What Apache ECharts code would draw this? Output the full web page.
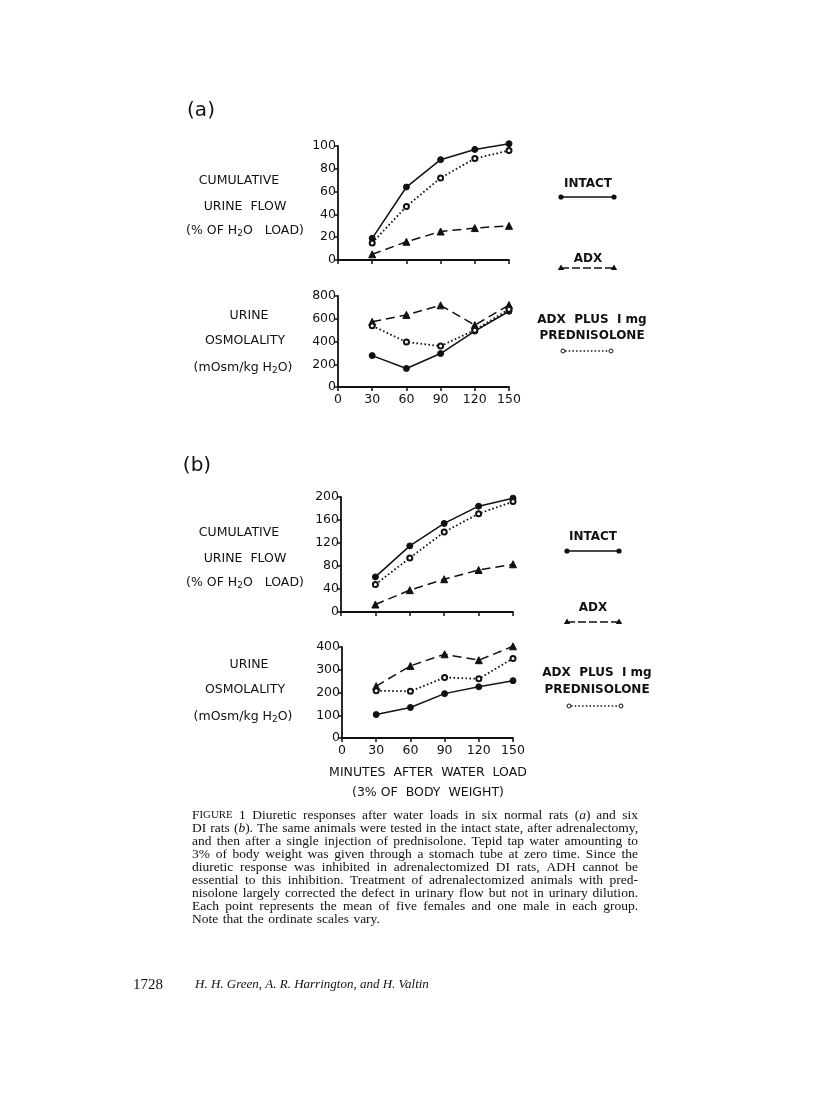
<!DOCTYPE html>
<html><head><meta charset="utf-8">
<script src="https://cdn.jsdelivr.net/npm/echarts@6/dist/echarts.min.js"></script>
<style>html,body{margin:0;padding:0;background:#fff}#c{width:816px;height:1100px}</style>
</head><body><div id="c"></div>
<script>
// ---- data ----
const minutes = [30, 60, 90, 120, 150];
const aFlowIntact = [19, 64, 88, 97, 102];
const aFlowAdx    = [5, 16, 25, 28, 30];
const aFlowPred   = [15, 47, 72, 89, 96];
const aOsmIntact  = [276, 163, 294, 492, 666];
const aOsmAdx     = [573, 634, 718, 544, 721];
const aOsmPred    = [538, 395, 360, 500, 684];
const bFlowIntact = [61, 115, 154, 184, 198];
const bFlowAdx    = [13, 38, 57, 73, 83];
const bFlowPred   = [48, 94, 139, 171, 192];
const bOsmIntact  = [103, 134, 195, 225, 252];
const bOsmAdx     = [228, 317, 368, 342, 403];
const bOsmPred    = [208, 205, 266, 260, 350];
const yMax = [100, 800, 200, 400];
const yStep = [20, 200, 40, 100];
const captionLines = [
  "FIGURE 1 Diuretic responses after water loads in six normal rats (a) and six",
  "DI rats (b). The same animals were tested in the intact state, after adrenalectomy,",
  "and then after a single injection of prednisolone. Tepid tap water amounting to",
  "3% of body weight was given through a stomach tube at zero time. Since the",
  "diuretic response was inhibited in adrenalectomized DI rats, ADH cannot be",
  "essential to this inhibition. Treatment of adrenalectomized animals with pred-",
  "nisolone largely corrected the defect in urinary flow but not in urinary dilution.",
  "Each point represents the mean of five females and one male in each group.",
  "Note that the ordinate scales vary."
];

const INK = '#111';
const SANS = '"DejaVu Sans", sans-serif';
const SERIF = '"Liberation Serif", "DejaVu Serif", serif';

const grids = [
  {left: 338, top: 146, width: 171, height: 114},
  {left: 338, top: 296, width: 171, height: 91},
  {left: 341, top: 497, width: 172, height: 115},
  {left: 342, top: 647, width: 171, height: 91}
];

const xAxes = grids.map((g, i) => ({
  type: 'value', gridIndex: i, min: 0, max: 150, interval: 30,
  axisLine: {show: true, lineStyle: {color: INK, width: 1.8}},
  axisTick: {show: true, length: 4, lineStyle: {color: INK, width: 1.5}},
  axisLabel: {show: i === 1 || i === 3, color: INK, fontFamily: SANS, fontSize: 12.5, margin: 6},
  splitLine: {show: false}
}));
const yAxes = grids.map((g, i) => ({
  type: 'value', gridIndex: i, min: 0, max: yMax[i], interval: yStep[i],
  axisLine: {show: true, lineStyle: {color: INK, width: 1.8}},
  axisTick: {show: true, length: 4, lineStyle: {color: INK, width: 1.5}},
  axisLabel: {show: true, color: INK, fontFamily: SANS, fontSize: 12.5, margin: 2},
  splitLine: {show: false}
}));

function mk(vals, i, kind) {
  const base = {
    type: 'line', xAxisIndex: i, yAxisIndex: i, clip: false, animation: false,
    showAllSymbol: true,
    data: minutes.map((m, k) => [m, vals[k]]),
    itemStyle: {color: INK, borderColor: INK},
    lineStyle: {color: INK, width: 1.5}
  };
  if (kind === 'intact') {
    base.symbol = 'circle'; base.symbolSize = 6;
  } else if (kind === 'adx') {
    base.symbol = 'triangle'; base.symbolSize = 7;
    base.lineStyle.type = [9, 5];
  } else {
    base.symbol = 'emptyCircle'; base.symbolSize = 5;
    base.itemStyle = {color: INK, borderWidth: 1.2};
    base.lineStyle.type = [1.6, 2.4]; base.lineStyle.width = 1.8;
  }
  return base;
}
const series = [
  mk(aFlowIntact, 0, 'intact'), mk(aFlowAdx, 0, 'adx'), mk(aFlowPred, 0, 'pred'),
  mk(aOsmIntact, 1, 'intact'), mk(aOsmAdx, 1, 'adx'), mk(aOsmPred, 1, 'pred'),
  mk(bFlowIntact, 2, 'intact'), mk(bFlowAdx, 2, 'adx'), mk(bFlowPred, 2, 'pred'),
  mk(bOsmIntact, 3, 'intact'), mk(bOsmAdx, 3, 'adx'), mk(bOsmPred, 3, 'pred')
];

// ---- graphic text/legend ----
const G = [];
const subRich = {n: {fontFamily: SANS, fontSize: 12.5, fill: INK}, s: {fontFamily: SANS, fontSize: 9, fill: INK, padding: [6, 0, 0, 0]}};
function T(x, y, text, opts) {
  G.push({type: 'text', x: x, y: y, style: Object.assign({text: text, fill: INK, font: '12.5px ' + SANS, align: 'center', verticalAlign: 'middle'}, opts || {})});
}
function sideLabels(y0) {
  T(239, y0, 'CUMULATIVE');
  T(245, y0 + 26, 'URINE  FLOW');
  T(245, y0 + 50, '{n|(% OF H}{s|2}{n|O   LOAD)}', {rich: subRich});
}
function osmLabels(y0) {
  T(249, y0, 'URINE');
  T(245, y0 + 25, 'OSMOLALITY');
  T(243, y0 + 52, '{n|(mOsm/kg H}{s|2}{n|O)}', {rich: subRich});
}
sideLabels(181); osmLabels(316);
sideLabels(533); osmLabels(665);
T(201, 111, '(a)', {font: '20px ' + SANS});
T(197, 466, '(b)', {font: '20px ' + SANS});
T(428, 773, 'MINUTES  AFTER  WATER  LOAD');
T(428, 793, '(3% OF  BODY  WEIGHT)');

function legend(cx, yIntactT, yIntactL, yAdxT, yAdxL, yP1, yP2, yPL, x1, x2, px1, px2) {
  T(cx, yIntactT, 'INTACT', {font: 'bold 12px ' + SANS});
  G.push({type: 'line', shape: {x1: x1, y1: yIntactL, x2: x2, y2: yIntactL}, style: {stroke: INK, lineWidth: 1.5}});
  G.push({type: 'circle', shape: {cx: x1, cy: yIntactL, r: 2.6}, style: {fill: INK}});
  G.push({type: 'circle', shape: {cx: x2, cy: yIntactL, r: 2.6}, style: {fill: INK}});
  T(cx, yAdxT, 'ADX', {font: 'bold 12px ' + SANS});
  G.push({type: 'line', shape: {x1: x1, y1: yAdxL, x2: x2, y2: yAdxL}, style: {stroke: INK, lineWidth: 1.5, lineDash: [8, 3]}});
  [x1, x2].forEach(x => G.push({type: 'polygon', shape: {points: [[x, yAdxL - 3.5], [x + 3.2, yAdxL + 2], [x - 3.2, yAdxL + 2]]}, style: {fill: INK}}));
  T(cx + 4, yP1, 'ADX  PLUS  I mg', {font: 'bold 12px ' + SANS});
  T(cx + 4, yP2, 'PREDNISOLONE', {font: 'bold 12px ' + SANS});
  G.push({type: 'line', shape: {x1: px1 + 2, y1: yPL, x2: px2 - 2, y2: yPL}, style: {stroke: INK, lineWidth: 1.6, lineDash: [1.5, 2.2]}});
  [px1, px2].forEach(x => G.push({type: 'circle', shape: {cx: x, cy: yPL, r: 2}, style: {fill: '#fff', stroke: INK, lineWidth: 1}}));
}
legend(588, 184, 197, 259, 268, 320, 336, 351, 561, 614, 563, 611);
legend(593, 537, 551, 608, 622, 673, 690, 706, 567, 619, 569, 621);

// caption, justified; font size fitted so the longest line fills the measure
const capL = 192, capR = 638, capY0 = 815, capDY = 13.05;
const ctx = document.createElement('canvas').getContext('2d');
ctx.font = '12px ' + SERIF;
let maxW = 0;
captionLines.forEach(l => { maxW = Math.max(maxW, ctx.measureText(l).width); });
const capSize = Math.min(13.5, 12 * (capR - capL - 4) / maxW);
const capFont = capSize.toFixed(2) + 'px ' + SERIF;
const smallFont = (capSize * 0.8).toFixed(2) + 'px ' + SERIF;
function measureWord(w) {
  if (w === 'FIGURE') {
    ctx.font = capFont; const a = ctx.measureText('F').width;
    ctx.font = smallFont; const b = ctx.measureText('IGURE').width;
    ctx.font = capFont; return a + b;
  }
  ctx.font = capFont;
  return ctx.measureText(w).width;
}
captionLines.forEach((line, li) => {
  const words = line.split(' ');
  const y = capY0 + li * capDY;
  const widths = words.map(measureWord);
  const total = widths.reduce((a, b) => a + b, 0);
  const last = li === captionLines.length - 1;
  ctx.font = capFont;
  const gap = last ? ctx.measureText(' ').width * 1.3 : (capR - capL - total) / (words.length - 1);
  let x = capL;
  words.forEach((w, k) => {
    let st = {text: w, fill: INK, font: capFont, align: 'left', verticalAlign: 'middle'};
    if (w === 'FIGURE') {
      st = {text: '{b|F}{s|IGURE}', align: 'left', verticalAlign: 'middle', rich: {b: {font: capFont, fill: INK}, s: {font: smallFont, fill: INK}}};
    } else if (w === '(a)' || w === '(b).') {
      const letter = w[1];
      const tail = w.slice(2);
      st = {text: '{n|(}{i|' + letter + '}{n|' + tail + '}', align: 'left', verticalAlign: 'middle', rich: {n: {font: capFont, fill: INK}, i: {font: 'italic ' + capFont, fill: INK}}};
    }
    G.push({type: 'text', x: x, y: y, style: st});
    x += widths[k] + gap;
  });
});

T(133, 985, '1728', {font: '15px "Liberation Serif", serif', align: 'left'});
T(195, 985, 'H. H. Green, A. R. Harrington, and H. Valtin', {font: 'italic 13px "Liberation Serif", serif', align: 'left'});

const chart = echarts.init(document.getElementById('c'), null, {renderer: 'canvas'});
chart.setOption({
  animation: false,
  backgroundColor: '#fff',
  grid: grids,
  xAxis: xAxes,
  yAxis: yAxes,
  series: series,
  graphic: G
});
</script>
</body></html>
